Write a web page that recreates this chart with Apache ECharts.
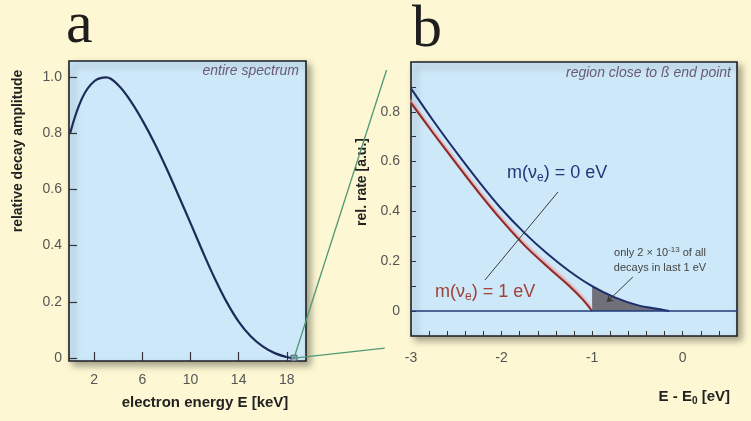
<!DOCTYPE html>
<html><head><meta charset="utf-8">
<script src="https://cdn.jsdelivr.net/npm/echarts@6/dist/echarts.min.js"></script>
<style>html,body{margin:0;padding:0;background:#fdf8d3;}#c{width:751px;height:421px;}</style>
</head><body><div id="c"></div>
<script>
// ---- Panel a: entire beta spectrum ----
const A_X = [0,1,2,3,4,5,6,7,8,9,10,11,12,13,14,15,16,17,18,18.6];
const A_Y = [0.80,0.925,0.984,0.998,0.97,0.915,0.845,0.765,0.675,0.578,0.48,0.38,0.285,0.2,0.13,0.078,0.042,0.018,0.004,0];
const A_XTICKS = [2,6,10,14,18];
const A_YTICKS = [0,0.2,0.4,0.6,0.8,1.0];
const A_ENDPOINT = [18.6, 0];

// ---- Panel b: region close to end point ----
const B0_X = [-3,-2.75,-2.5,-2.25,-2,-1.75,-1.5,-1.25,-1,-0.75,-0.5,-0.25,-0.15];
const B0_Y = [0.894,0.762,0.638,0.52,0.41,0.315,0.232,0.16,0.10,0.055,0.024,0.007,0];
const B1_X = [-3,-2.75,-2.5,-2.25,-2,-1.75,-1.5,-1.25,-1.1,-1];
const B1_Y = [0.836,0.712,0.592,0.475,0.365,0.265,0.18,0.1,0.045,0];
const B_XLABELS = [-3,-2,-1,0];
const B_XTICKS = [-3,-2.8,-2.6,-2.4,-2.2,-2,-1.8,-1.6,-1.4,-1.2,-1,-0.8,-0.6,-0.4,-0.2,0,0.2,0.4];
const B_YLABELS = [0,0.2,0.4,0.6,0.8];
const B_YTICKS = [0,0.1,0.2,0.3,0.4,0.5,0.6,0.7,0.8,0.9];
const SHADE_FROM = -1;
const POINTER_LINE = [[-1.377,0.478],[-2.183,0.125]];
const NOTE_ARROW = [[-0.55,0.137],[-0.837,0.036]];
const ZOOM_TOP = [-3.27, 0.968];
const ZOOM_BOTTOM = [-3.29, -0.149];

const zip = (xs, ys) => xs.map((x, i) => [x, ys[i]]);
const A_DATA = zip(A_X, A_Y);
const B0_DATA = zip(B0_X, B0_Y);
const B1_DATA = zip(B1_X, B1_Y);
const SHADE_DATA = B0_DATA.filter(p => p[0] >= SHADE_FROM);

const fmt = v => (Math.abs(v) < 1e-9 ? '0' : v.toFixed(1));
const LBL = {color:'#555', fontSize:14, fontFamily:'Liberation Sans, Arial, sans-serif'};
const gridStyle = {show:true, backgroundColor:'#cde8f8', borderColor:'#1e1e24', borderWidth:1.6,
  shadowColor:'rgba(0,0,0,0.35)', shadowBlur:7, shadowOffsetX:4, shadowOffsetY:4};

const chart = echarts.init(document.getElementById('c'), null, {renderer:'canvas'});
const FONT = 'Liberation Sans, Arial, sans-serif';
const option = {
  backgroundColor:'#fdf8d3',
  animation:false,
  grid:[
    Object.assign({left:69, top:61, width:237, height:300}, gridStyle),
    Object.assign({left:411, top:62, width:326, height:274}, gridStyle)
  ],
  xAxis:[
    {type:'value', gridIndex:0, min:-0.1, max:19.6, splitLine:{show:false},
     axisLine:{show:false, onZero:false},
     axisTick:{inside:true, length:9, lineStyle:{color:'#333', width:1.2}, customValues:A_XTICKS},
     axisLabel:Object.assign({margin:12, customValues:A_XTICKS}, LBL)},
    {type:'value', gridIndex:1, min:-3, max:0.6, splitLine:{show:false},
     axisLine:{show:false, onZero:false},
     axisTick:{inside:true, length:5, lineStyle:{color:'#333', width:1}, customValues:B_XTICKS},
     axisLabel:Object.assign({margin:15, customValues:B_XLABELS, formatter:v=>String(Math.round(v))}, LBL)}
  ],
  yAxis:[
    {type:'value', gridIndex:0, min:-0.01, max:1.056, splitLine:{show:false},
     axisLine:{show:false, onZero:false},
     axisTick:{inside:true, length:8, lineStyle:{color:'#333', width:1.2}, customValues:A_YTICKS},
     axisLabel:Object.assign({margin:7, customValues:A_YTICKS, formatter:fmt}, LBL)},
    {type:'value', gridIndex:1, min:-0.1, max:1.0, splitLine:{show:false},
     axisLine:{show:false, onZero:false},
     axisTick:{inside:true, length:5, lineStyle:{color:'#333', width:1}, customValues:B_YTICKS},
     axisLabel:Object.assign({margin:11, customValues:B_YLABELS, formatter:fmt}, LBL)}
  ],
  series:[
    {name:'spectrum', type:'line', xAxisIndex:0, yAxisIndex:0, data:A_DATA, smooth:0.4,
     showSymbol:false, lineStyle:{color:'#1d2b5a', width:2.2}, z:3},
    {name:'endpoint', type:'scatter', xAxisIndex:0, yAxisIndex:0, data:[A_ENDPOINT], symbol:'rect', symbolSize:6,
     itemStyle:{color:'#9aa6c0', borderColor:'#3a4260', borderWidth:1}, z:6},
    {name:'shade', type:'line', xAxisIndex:1, yAxisIndex:1, data:SHADE_DATA, smooth:0.35, showSymbol:false,
     lineStyle:{width:0}, areaStyle:{color:'#6f7079', opacity:1}, z:2},
    {name:'m1', type:'line', xAxisIndex:1, yAxisIndex:1, data:B1_DATA, smooth:0.3, showSymbol:false,
     lineStyle:{color:'#8e2a26', width:2, shadowColor:'#ef9599', shadowBlur:2, shadowOffsetX:-1, shadowOffsetY:-3}, z:3},
    {name:'m0', type:'line', xAxisIndex:1, yAxisIndex:1, data:B0_DATA, smooth:0.35, showSymbol:false,
     lineStyle:{color:'#1c2d6b', width:2}, z:4,
     markLine:{silent:true, animation:false, symbol:['none','none'], label:{show:false},
       data:[
         {yAxis:0, lineStyle:{color:'#203a78', width:1.6, type:'solid'}},
         [{coord:POINTER_LINE[0], symbol:'none', lineStyle:{color:'#3a3a3a', width:1, type:'solid'}},
          {coord:POINTER_LINE[1], symbol:'none'}],
         [{coord:NOTE_ARROW[0], symbol:'none', lineStyle:{color:'#3a3a3a', width:1, type:'solid'}},
          {coord:NOTE_ARROW[1], symbol:'arrow', symbolSize:6}]
       ]}}
  ],
  graphic:[
    {type:'text', x:66, y:26, style:{text:'a', font:'60px "Liberation Serif", "DejaVu Serif", serif', fill:'#1e1e1e', verticalAlign:'middle'}},
    {type:'text', x:412, y:30, style:{text:'b', font:'60px "Liberation Serif", "DejaVu Serif", serif', fill:'#1e1e1e', verticalAlign:'middle'}},
    {type:'text', x:299, y:71, z:10, style:{text:'entire spectrum', font:'italic 14px '+FONT, fill:'#6b5a72', align:'right', verticalAlign:'middle'}},
    {type:'text', x:731, y:73, z:10, style:{text:'region close to ß end point', font:'italic 14px '+FONT, fill:'#6b5a72', align:'right', verticalAlign:'middle'}},
    {type:'text', x:205, y:403, style:{text:'electron energy E [keV]', font:'bold 15px '+FONT, fill:'#222', align:'center', verticalAlign:'middle'}},
    {type:'text', x:730, y:397, style:{text:'{a|E - E}{s|0}{a| [eV]}', align:'right', verticalAlign:'middle',
      rich:{a:{font:'bold 15px '+FONT, fill:'#222'}, s:{font:'bold 10px '+FONT, fill:'#222', padding:[9,0,0,0]}}}},
    {type:'text', x:18, y:151, rotation:Math.PI/2, style:{text:'relative decay amplitude', font:'bold 14px '+FONT, fill:'#222', align:'center', verticalAlign:'middle'}},
    {type:'text', x:362, y:182, rotation:Math.PI/2, style:{text:'rel. rate [a.u.]', font:'bold 14px '+FONT, fill:'#222', align:'center', verticalAlign:'middle'}},
    {type:'text', x:507, y:173, z:10, style:{text:'{t|m(ν}{s|e}{t|) = 0 eV}', align:'left', verticalAlign:'middle',
      rich:{t:{font:'18px '+FONT, fill:'#26357a'}, s:{font:'12px '+FONT, fill:'#26357a', padding:[10,0,0,0]}}}},
    {type:'text', x:435, y:292, z:10, style:{text:'{t|m(ν}{s|e}{t|) = 1 eV}', align:'left', verticalAlign:'middle',
      rich:{t:{font:'18px '+FONT, fill:'#a0413a'}, s:{font:'12px '+FONT, fill:'#a0413a', padding:[10,0,0,0]}}}},
    {type:'text', x:660, y:253, z:10, style:{text:'{t|only 2 × 10}{u|-13}{t| of all}', align:'center', verticalAlign:'middle',
      rich:{t:{font:'11px '+FONT, fill:'#444'}, u:{font:'8px '+FONT, fill:'#444', padding:[0,0,6,0]}}}},
    {type:'text', x:660, y:268, z:10, style:{text:'decays in last 1 eV', font:'11px '+FONT, fill:'#444', align:'center', verticalAlign:'middle'}}
  ]
};
chart.setOption(option);

// green zoom connectors from the end point of panel a to panel b
const pA = chart.convertToPixel({gridIndex:0}, A_ENDPOINT);
const pT = chart.convertToPixel({gridIndex:1}, ZOOM_TOP);
const pB = chart.convertToPixel({gridIndex:1}, ZOOM_BOTTOM);
chart.setOption({graphic:[
  {id:'gz1', type:'line', z:20, shape:{x1:pA[0], y1:pA[1], x2:pT[0], y2:pT[1]}, style:{stroke:'#4e9a74', lineWidth:1.3}},
  {id:'gz2', type:'line', z:20, shape:{x1:pA[0], y1:pA[1], x2:pB[0], y2:pB[1]}, style:{stroke:'#4e9a74', lineWidth:1.3}}
]});
</script></body></html>
